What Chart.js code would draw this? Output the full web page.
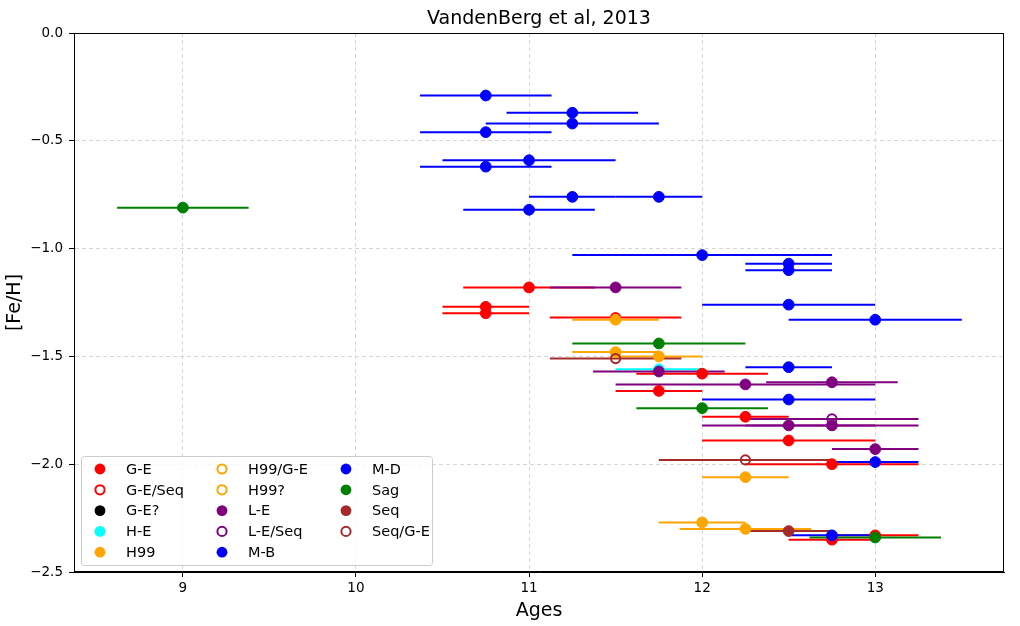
<!DOCTYPE html>
<html><head><meta charset="utf-8">
<script src="https://cdn.jsdelivr.net/npm/chart.js@4"></script>
<style>html,body{margin:0;padding:0;background:#fff}#wrap{width:1020px;height:626px;position:relative}</style>
</head><body><div id="wrap"><canvas id="c"></canvas></div>
<script>
// ---------------- DATA ----------------
const chartTitle = 'VandenBerg et al, 2013';
const xTitle = 'Ages';
const yTitle = '[Fe/H]';
const categories = ['G-E','G-E/Seq','G-E?','H-E','H99','H99/G-E','H99?','L-E','L-E/Seq','M-B','M-D','Sag','Seq','Seq/G-E'];
const xTicks = [9, 10, 11, 12, 13];
const yTicks = [0, -0.5, -1, -1.5, -2, -2.5];

const age_GE   = [11.0, 10.75, 10.75, 12.0, 11.75, 12.25, 12.5, 12.75, 13.0, 12.75];
const feh_GE   = [-1.18, -1.27, -1.30, -1.58, -1.66, -1.78, -1.89, -2.00, -2.33, -2.35];
const err_GE   = [0.38, 0.25, 0.25, 0.38, 0.25, 0.25, 0.5, 0.5, 0.25, 0.25];

const age_GESeq = [11.5];
const feh_GESeq = [-1.32];
const err_GESeq = [0.38];

const age_GEq = [];
const feh_GEq = [];
const err_GEq = [];

const age_HE = [11.75];
const feh_HE = [-1.56];
const err_HE = [0.25];

const age_H99 = [11.5, 11.5, 11.75, 12.25, 12.0, 12.25];
const feh_H99 = [-1.33, -1.48, -1.50, -2.06, -2.27, -2.30];
const err_H99 = [0.25, 0.25, 0.25, 0.25, 0.25, 0.38];

const age_H99GE = [];
const feh_H99GE = [];
const err_H99GE = [];

const age_H99q = [];
const feh_H99q = [];
const err_H99q = [];

const age_LE = [11.5, 11.75, 12.25, 12.75, 12.5, 12.75, 13.0];
const feh_LE = [-1.18, -1.57, -1.63, -1.62, -1.82, -1.82, -1.93];
const err_LE = [0.38, 0.38, 0.75, 0.38, 0.5, 0.5, 0.25];

const age_LESeq = [12.75];
const feh_LESeq = [-1.79];
const err_LESeq = [0.5];

const age_MB = [10.75, 11.25, 11.25, 10.75, 11.0, 10.75, 11.25, 11.75, 11.0];
const feh_MB = [-0.29, -0.37, -0.42, -0.46, -0.59, -0.62, -0.76, -0.76, -0.82];
const err_MB = [0.38, 0.38, 0.5, 0.38, 0.5, 0.38, 0.25, 0.25, 0.38];

const age_MD = [12.0, 12.5, 12.5, 12.5, 13.0, 12.5, 12.5, 13.0, 12.75];
const feh_MD = [-1.03, -1.07, -1.10, -1.26, -1.33, -1.55, -1.70, -1.99, -2.33];
const err_MD = [0.75, 0.25, 0.25, 0.5, 0.5, 0.25, 0.5, 0.25, 0.25];

const age_Sag = [9.0, 11.75, 12.0, 13.0];
const feh_Sag = [-0.81, -1.44, -1.74, -2.34];
const err_Sag = [0.38, 0.5, 0.38, 0.38];

const age_Seq = [12.5];
const feh_Seq = [-2.31];
const err_Seq = [0.25];

const age_SeqGE = [11.5, 12.25];
const feh_SeqGE = [-1.51, -1.98];
const err_SeqGE = [0.38, 0.5];

// ---------------- STYLES ----------------
const seriesColors = ['#ff0000','#ff0000','#000000','#00ffff','#ffa500','#ffa500','#ffa500','#800080','#800080','#0000ff','#0000ff','#008000','#a52a2a','#a52a2a'];
const seriesOpen   = [false, true, false, false, false, true, true, false, true, false, false, false, false, true];

const seriesTable = [
  [age_GE, feh_GE, err_GE], [age_GESeq, feh_GESeq, err_GESeq], [age_GEq, feh_GEq, err_GEq],
  [age_HE, feh_HE, err_HE], [age_H99, feh_H99, err_H99], [age_H99GE, feh_H99GE, err_H99GE],
  [age_H99q, feh_H99q, err_H99q], [age_LE, feh_LE, err_LE], [age_LESeq, feh_LESeq, err_LESeq],
  [age_MB, feh_MB, err_MB], [age_MD, feh_MD, err_MD], [age_Sag, feh_Sag, err_Sag],
  [age_Seq, feh_Seq, err_Seq], [age_SeqGE, feh_SeqGE, err_SeqGE]
];

const FONT = "'DejaVu Sans', sans-serif";

const datasets = categories.map((name, i) => {
  const [ages, fehs, errs] = seriesTable[i];
  const open = seriesOpen[i];
  return {
    label: name,
    data: ages.map((a, k) => ({x: a, y: fehs[k]})),
    xErr: errs,
    order: categories.length - i,
    borderColor: seriesColors[i],
    backgroundColor: open ? 'rgba(255,255,255,0)' : seriesColors[i],
    pointBorderColor: seriesColors[i],
    pointBackgroundColor: open ? 'rgba(255,255,255,0)' : seriesColors[i],
    pointRadius: open ? 4.6 : 5.4,
    pointHoverRadius: open ? 4.6 : 5.4,
    pointBorderWidth: open ? 2 : 1,
    showLine: false,
    _open: open
  };
});

const errorBarPlugin = {
  id: 'errorBars',
  beforeDatasetsDraw(chart) {
    const {ctx, chartArea, scales} = chart;
    ctx.save();
    ctx.beginPath();
    ctx.rect(chartArea.left, chartArea.top, chartArea.right - chartArea.left, chartArea.bottom - chartArea.top);
    ctx.clip();
    ctx.lineWidth = 2;
    chart.data.datasets.forEach(ds => {
      ctx.strokeStyle = ds.borderColor;
      ds.data.forEach((p, k) => {
        const e = ds.xErr[k];
        const x1 = scales.x.getPixelForValue(p.x - e);
        const x2 = scales.x.getPixelForValue(p.x + e);
        const y = scales.y.getPixelForValue(p.y);
        ctx.beginPath();
        ctx.moveTo(x1, y);
        ctx.lineTo(x2, y);
        ctx.stroke();
      });
    });
    ctx.restore();
  }
};

const framePlugin = {
  id: 'frame',
  afterDraw(chart) {
    const {ctx, chartArea} = chart;
    ctx.save();
    ctx.strokeStyle = '#000';
    ctx.lineWidth = 1;
    ctx.strokeRect(Math.round(chartArea.left) + 0.5, Math.round(chartArea.top) + 0.5,
      Math.round(chartArea.right - chartArea.left) - 1, Math.round(chartArea.bottom - chartArea.top) - 1);
    // title
    ctx.fillStyle = '#000';
    ctx.font = '19px ' + FONT;
    ctx.textAlign = 'center';
    ctx.textBaseline = 'middle';
    ctx.fillText(chartTitle, (chartArea.left + chartArea.right) / 2, 19);
    ctx.restore();
  }
};

const legendPlugin = {
  id: 'customLegend',
  afterDraw(chart) {
    const {ctx, chartArea} = chart;
    const boxL = chartArea.left + 7, boxB = chartArea.bottom - 7;
    const boxW = 351, boxH = 109;
    const boxT = boxB - boxH;
    ctx.save();
    ctx.fillStyle = 'rgba(255,255,255,0.8)';
    ctx.strokeStyle = '#cccccc';
    ctx.lineWidth = 1;
    ctx.beginPath();
    if (ctx.roundRect) ctx.roundRect(boxL + 0.5, boxT + 0.5, boxW, boxH, 3); else ctx.rect(boxL + 0.5, boxT + 0.5, boxW, boxH);
    ctx.fill();
    ctx.stroke();
    const colMarker = [19, 141, 265];
    const colText = [45, 167, 291];
    const rowH = 20.8, row0 = boxT + 13;
    ctx.font = '14.5px ' + FONT;
    ctx.textBaseline = 'middle';
    ctx.textAlign = 'left';
    chart.data.datasets.forEach((ds, i) => {
      const col = Math.floor(i / 5), row = i % 5;
      const mx = boxL + colMarker[col], my = row0 + row * rowH;
      ctx.beginPath();
      if (ds._open) {
        ctx.arc(mx, my, 4.6, 0, Math.PI * 2);
        ctx.lineWidth = 2;
        ctx.strokeStyle = ds.borderColor;
        ctx.stroke();
      } else {
        ctx.arc(mx, my, 5.4, 0, Math.PI * 2);
        ctx.fillStyle = ds.borderColor;
        ctx.fill();
      }
      ctx.fillStyle = '#000';
      ctx.fillText(ds.label, boxL + colText[col], my + 1);
    });
    ctx.restore();
  }
};

const fmtNum = v => {
  const s = Math.abs(v).toFixed(1);
  return v < -1e-9 ? '\u2212' + s : s;
};

new Chart(document.getElementById('c'), {
  type: 'scatter',
  data: {datasets},
  options: {
    responsive: true,
    maintainAspectRatio: false,
    animation: false,
    devicePixelRatio: 1,
    layout: {padding: {left: 0, right: 16, top: 33, bottom: 0}},
    plugins: {
      legend: {display: false},
      title: {display: false},
      tooltip: {enabled: false}
    },
    scales: {
      x: {
        type: 'linear',
        min: 8.371,
        max: 13.744,
        afterBuildTicks: s => { s.ticks = xTicks.map(v => ({value: v})); },
        afterFit: s => { s.height = 54; },
        ticks: {color: '#000', font: {family: FONT, size: 13.5}, padding: 3, maxRotation: 0,
          callback: v => String(v)},
        grid: {color: '#d6d6d6', lineWidth: 1, tickColor: '#000', tickLength: 5, tickWidth: 1},
        border: {display: true, color: '#000', width: 1, dash: [4, 3]},
        title: {display: true, text: xTitle, color: '#000', font: {family: FONT, size: 19}, padding: {top: 0, bottom: 4}}
      },
      y: {
        type: 'linear',
        min: -2.5,
        max: 0,
        afterBuildTicks: s => { s.ticks = yTicks.map(v => ({value: v})); },
        afterFit: s => { s.width = 74; },
        ticks: {color: '#000', font: {family: FONT, size: 13.5}, padding: 6, callback: v => fmtNum(v)},
        grid: {color: '#d6d6d6', lineWidth: 1, tickColor: '#000', tickLength: 5, tickWidth: 1},
        border: {display: true, color: '#000', width: 1, dash: [4, 3]},
        title: {display: true, text: yTitle, color: '#000', font: {family: FONT, size: 19}, padding: {top: 4, bottom: 0}}
      }
    }
  },
  plugins: [errorBarPlugin, framePlugin, legendPlugin]
});
</script>
</body></html>
